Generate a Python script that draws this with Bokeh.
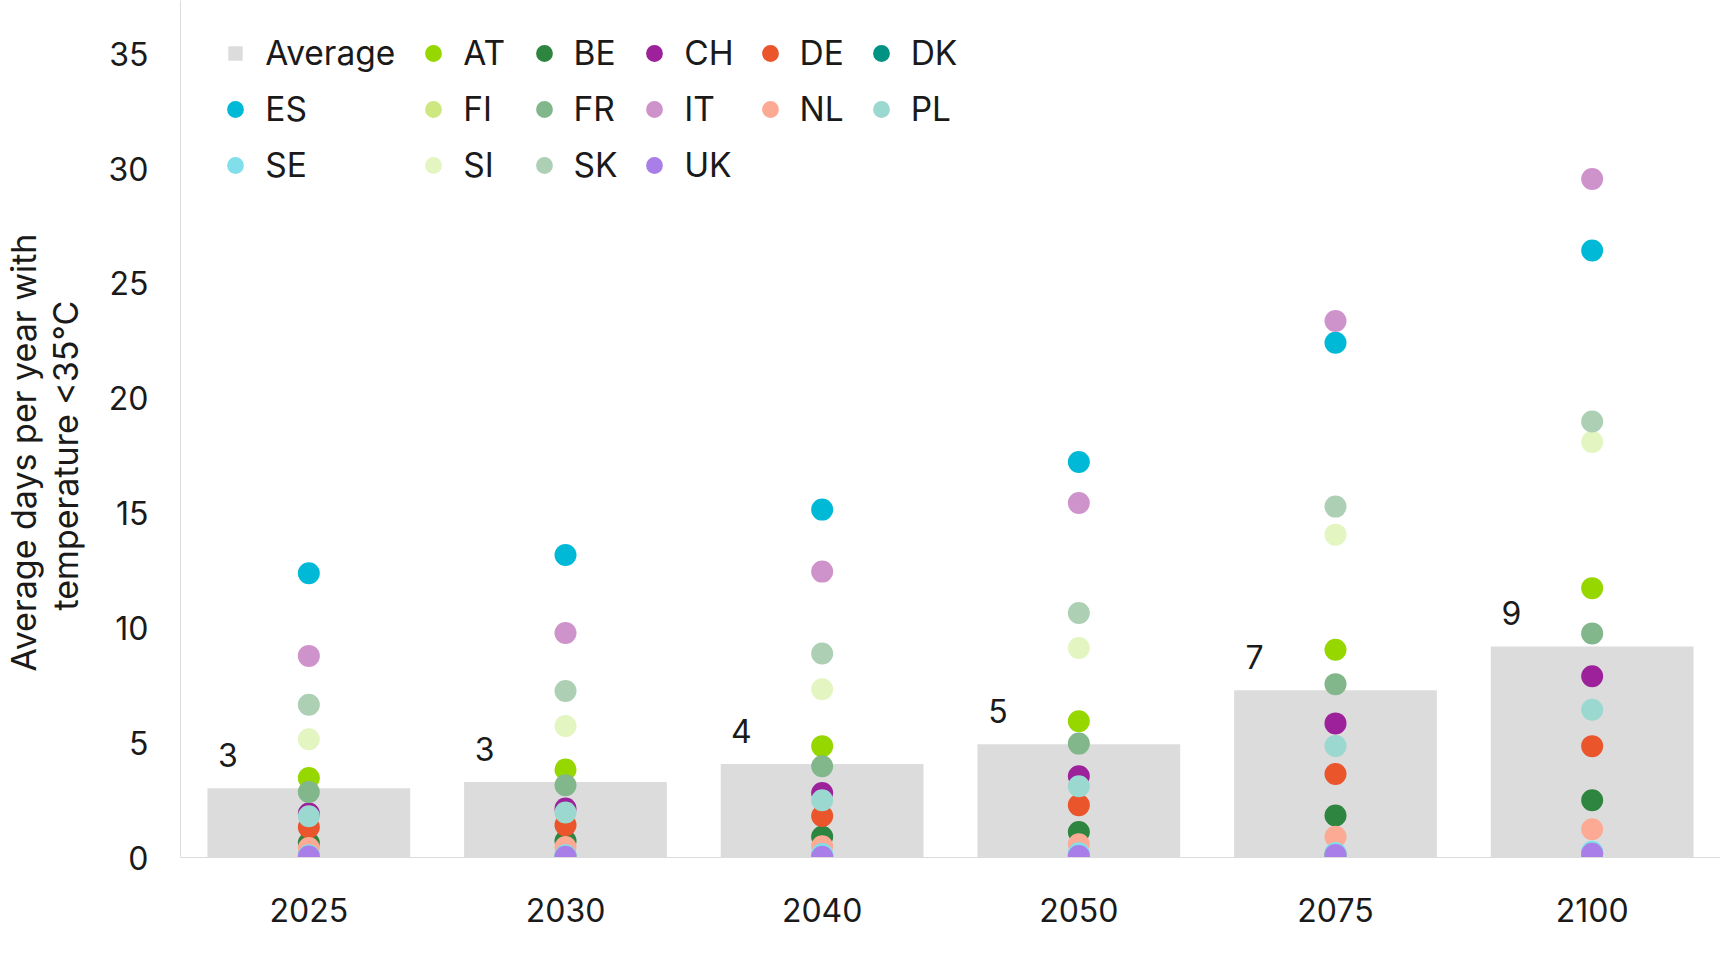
from bokeh.plotting import figure
from bokeh.models import (ColumnDataSource, Range1d, FactorRange, Legend, LegendItem,
                          SingleIntervalTicker, Title)
from bokeh.transform import dodge
from bokeh.core.properties import value
from bokeh.embed import file_html
from bokeh.resources import INLINE

# ---- data ----
years = ["2025", "2030", "2040", "2050", "2075", "2100"]
average = [3.02, 3.29, 4.07, 4.93, 7.28, 9.19]

AT = [3.46, 3.83, 4.85, 5.93, 9.05, 11.73]
BE = [0.63, 0.72, 0.90, 1.11, 1.83, 2.49]
CH = [1.92, 2.13, 2.81, 3.54, 5.84, 7.89]
DE = [1.32, 1.41, 1.81, 2.28, 3.64, 4.85]
DK = [0.05, 0.05, 0.08, 0.10, 0.12, 0.15]
ES = [12.38, 13.17, 15.15, 17.22, 22.42, 26.43]
FI = [0.08, 0.08, 0.10, 0.12, 0.15, 0.20]
FR = [2.85, 3.15, 3.97, 4.96, 7.55, 9.76]
IT = [8.78, 9.78, 12.45, 15.44, 23.36, 29.55]
NL = [0.41, 0.46, 0.49, 0.58, 0.90, 1.23]
PL = [1.80, 1.96, 2.49, 3.10, 4.86, 6.43]
SE = [0.10, 0.10, 0.15, 0.18, 0.20, 0.25]
SI = [5.15, 5.73, 7.33, 9.12, 14.06, 18.09]
SK = [6.65, 7.25, 8.88, 10.65, 15.28, 18.99]
UK = [0.04, 0.03, 0.03, 0.06, 0.11, 0.16]

countries = ["AT", "BE", "CH", "DE", "DK", "ES", "FI", "FR", "IT", "NL", "PL", "SE", "SI", "SK", "UK"]
country_values = {"AT": AT, "BE": BE, "CH": CH, "DE": DE, "DK": DK, "ES": ES, "FI": FI,
                  "FR": FR, "IT": IT, "NL": NL, "PL": PL, "SE": SE, "SI": SI, "SK": SK, "UK": UK}
colors = {"AT": "#97d700", "BE": "#2e853f", "CH": "#9c219a", "DE": "#ea552b", "DK": "#009383",
          "ES": "#00b9d6", "FI": "#cde880", "FR": "#82b68b", "IT": "#cf93cb", "NL": "#fdaa94",
          "PL": "#9ad8d0", "SE": "#80dfea", "SI": "#e3f5c1", "SK": "#add0b4", "UK": "#a97ee8"}

y_label_lines = ["Average days per year with", "temperature <35°C"]

FONT = "Inter"
TXT = "#1a1a1a"
AXIS = "#dcdcdc"

p = figure(width=1720, height=963, x_range=FactorRange(*years, range_padding=0),
           y_range=Range1d(0, 37.32), output_backend="svg", toolbar_location=None,
           min_border_left=180, min_border_right=0, min_border_top=0, min_border_bottom=106)
p.outline_line_color = None
p.xgrid.visible = False
p.ygrid.visible = False

src = ColumnDataSource(dict(years=years, average=average,
                            label=[str(int(round(v))) for v in average]))
bars = p.vbar(x="years", top="average", width=0.79, source=src, fill_color="#dcdcdc", line_color=None)
p.text(x=dodge("years", -0.315, range=p.x_range), y="average", text="label", source=src,
       text_font=value(FONT), text_font_size="32px", text_color=TXT,
       text_align="center", text_baseline="middle", y_offset=-33)

renderers = {}
for c in countries:
    s = ColumnDataSource(dict(years=years, v=country_values[c]))
    renderers[c] = p.scatter(x="years", y="v", source=s, size=22, fill_color=colors[c], line_color=None)

# axes
p.xaxis.axis_line_color = AXIS
p.xaxis.major_tick_line_color = None
p.xaxis.minor_tick_line_color = None
p.xaxis.major_label_text_font = FONT
p.xaxis.major_label_text_font_size = "32px"
p.xaxis.major_label_text_color = TXT
p.xaxis.major_label_standoff = 34

p.yaxis.ticker = SingleIntervalTicker(interval=5)
p.yaxis.axis_line_color = AXIS
p.yaxis.major_tick_line_color = None
p.yaxis.minor_tick_line_color = None
p.yaxis.major_tick_out = 0
p.yaxis.major_tick_in = 0
p.yaxis.major_label_text_font = FONT
p.yaxis.major_label_text_font_size = "32px"
p.yaxis.major_label_text_color = TXT
p.yaxis.major_label_standoff = 28

# two-line y axis title as stacked left titles (inner line first)
for txt, so, off in zip(reversed(y_label_lines), [40, -42], [247, 186]):
    p.add_layout(Title(text=txt, align="left", offset=off, standoff=so,
                       text_font=FONT, text_font_size="34px", text_font_style="normal",
                       text_color=TXT), "left")


def make_legend(items, x, y, glyph=42, standoff=9):
    leg = Legend(items=items, location=(x, y), orientation="vertical",
                 glyph_width=glyph, glyph_height=glyph, label_height=40, spacing=14,
                 padding=0, margin=0, border_line_color=None, background_fill_alpha=0,
                 label_text_font=FONT, label_text_font_size="33.5px", label_text_color=TXT,
                 label_standoff=standoff)
    p.add_layout(leg)


def li(c):
    return LegendItem(label=c, renderers=[renderers[c]])


make_legend([LegendItem(label="Average", renderers=[bars])], 46.3, 784.0, glyph=18, standoff=21)
make_legend([li("ES"), li("SE")], 34.3, 671.0)
make_legend([li("AT"), li("FI"), li("SI")], 232.3, 671.0)
make_legend([li("BE"), li("FR"), li("SK")], 342.5, 671.0)
make_legend([li("CH"), li("IT"), li("UK")], 453.2, 671.0)
make_legend([li("DE"), li("NL")], 568.5, 727.0)
make_legend([li("DK"), li("PL")], 679.7, 727.0)

open("out.html", "w").write(file_html(p, INLINE))
